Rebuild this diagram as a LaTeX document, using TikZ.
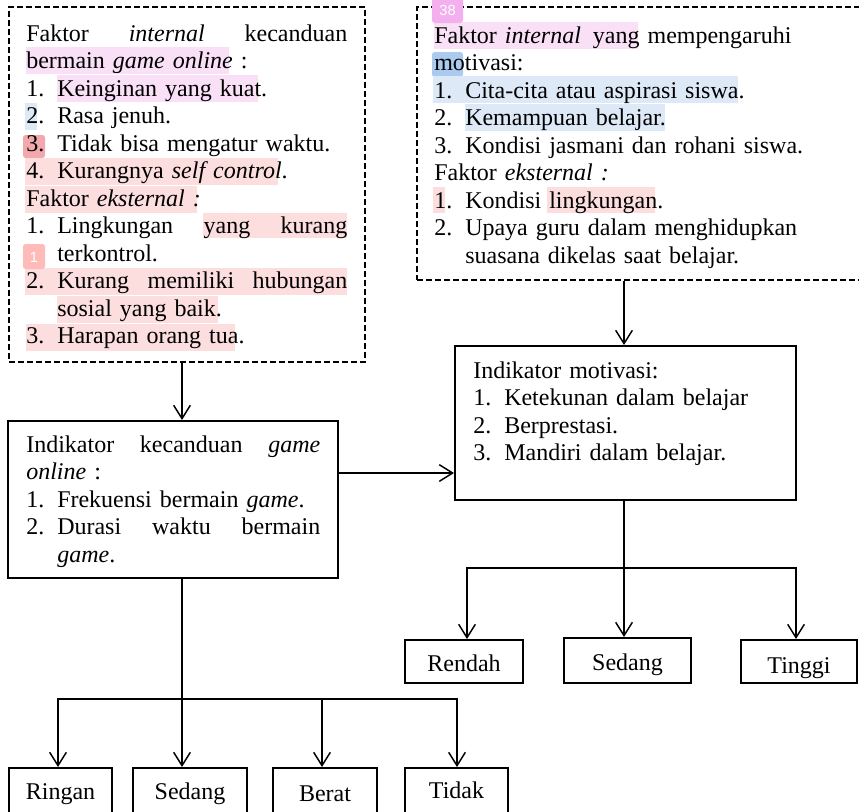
\documentclass[tikz,border=0pt]{standalone}
\usepackage{fontspec}
\setmainfont{Liberation Serif}
\newfontfamily\badgefont{Liberation Sans}
\usetikzlibrary{arrows.meta}
\definecolor{hlpur}{RGB}{249,224,246}
\definecolor{hlblue}{RGB}{221,233,246}
\definecolor{hlpink}{RGB}{253,222,222}
\definecolor{badgered}{RGB}{242,168,172}
\definecolor{badgesal}{RGB}{255,186,186}
\definecolor{badgepur}{RGB}{244,176,238}
\definecolor{badgeblue}{RGB}{170,202,240}
\newcommand{\itemnum}[1]{\makebox[23.25pt][l]{#1}}
\newcommand{\itemind}{\hspace*{23.25pt}}
\begin{document}
\begin{tikzpicture}[x=0.75pt,y=-0.75pt,
  box/.style={draw, line width=1.5pt, rectangle, inner sep=0pt},
  dbox/.style={draw, line width=1.2pt, dash pattern=on 4.5pt off 2.25pt, rectangle, inner sep=0pt},
  txt/.style={anchor=base west, inner sep=0pt, align=left, font=\fontsize{18pt}{20.625pt}\selectfont},
  leaf/.style={box, anchor=north, font=\fontsize{18pt}{20.625pt}\selectfont},
  arr/.style={line width=1.1pt, -{Straight Barb[length=10pt,width=12.5pt]}},
  ln/.style={line width=1.1pt},
  badge/.style={inner sep=0pt, text=white, font=\badgefont\fontsize{11pt}{12pt}\selectfont}]
\useasboundingbox (0,0) rectangle (859,811);

% highlights (left)
\fill[hlpur] (26,47) rectangle (229,74);
\fill[hlpur] (57,75) rectangle (258,102);
\fill[hlblue] (25,103) rectangle (37,130);
\fill[badgered, rounded corners=2pt] (23,135) rectangle (45,158);
\fill[hlpink] (25,158) rectangle (278,185);
\fill[hlpink] (25,186) rectangle (197,213);
\fill[hlpink] (203,213) rectangle (347,238);
\fill[hlpink] (25,268) rectangle (347,295);
\fill[hlpink] (57,296) rectangle (218,323);
\fill[hlpink] (26,324) rectangle (235,351);
% highlights (right)
\fill[hlpur] (434,22) rectangle (638,49);
\fill[badgeblue, rounded corners=2pt] (432,52) rectangle (463,77);
\fill[hlblue] (433,76) rectangle (738,103);
\fill[hlblue] (465,104) rectangle (665,131);
\fill[hlpink] (433,187) rectangle (445,213);
\fill[hlpink] (547,187) rectangle (655,213);

% frames
\node[dbox, minimum width=267pt, minimum height=266.25pt] (dashL) at (187,184.5) {};
\node[dbox, minimum width=347.25pt, minimum height=204.75pt] (dashR) at (648.5,143.5) {};
\node[box, minimum width=247.5pt, minimum height=117.75pt] (kec) at (173,499.5) {};
\node[box, minimum width=255.75pt, minimum height=115.5pt] (motiv) at (625.5,423) {};

% texts
\node[txt, text width=240.75pt] (tL) at (26,41) {%
Faktor\hfill\emph{internal}\hfill kecanduan\\
bermain \emph{game online} :\\
\itemnum{1.}Keinginan yang kuat.\\
\itemnum{2.}Rasa jenuh.\\
\itemnum{3.}Tidak bisa mengatur waktu.\\
\itemnum{4.}Kurangnya \emph{self control}.\\
Faktor \emph{eksternal :}\\
\itemnum{1.}Lingkungan\hfill yang\hfill kurang\\
\itemind terkontrol.\\
\itemnum{2.}Kurang\hfill memiliki\hfill hubungan\\
\itemind sosial yang baik.\\
\itemnum{3.}Harapan orang tua.};

\node[txt, text width=315pt] (tR) at (434,43) {%
Faktor \emph{internal}\hspace{9pt}yang mempengaruhi\\
motivasi:\\
\itemnum{1.}Cita-cita atau aspirasi siswa.\\
\itemnum{2.}Kemampuan belajar.\\
\itemnum{3.}Kondisi jasmani dan rohani siswa.\\
Faktor \emph{eksternal :}\\
\itemnum{1.}Kondisi lingkungan.\\
\itemnum{2.}Upaya guru dalam menghidupkan\\
\itemind suasana dikelas saat belajar.};

\node[txt, text width=220.5pt] (tK) at (26,452) {%
Indikator\hfill kecanduan\hfill\emph{game}\\
\emph{online} :\\
\itemnum{1.}Frekuensi bermain \emph{game}.\\
\itemnum{2.}Durasi\hfill waktu\hfill bermain\\
\itemind\emph{game}.};

\node[txt, text width=230pt] (tM) at (473,378) {%
Indikator motivasi:\\
\itemnum{1.}Ketekunan dalam belajar\\
\itemnum{2.}Berprestasi.\\
\itemnum{3.}Mandiri dalam belajar.};

% leaf boxes
\node[leaf, minimum width=88.5pt, text height=23.25pt, text depth=9pt] (rendah) at (464,639) {Rendah};
\node[leaf, minimum width=95.25pt, text height=24pt, text depth=9.75pt] (sedR) at (627.5,637) {Sedang};
\node[leaf, minimum width=87pt, text height=24.75pt, text depth=7.5pt] (tinggi) at (799,639) {Tinggi};
\node[leaf, minimum width=77.25pt, text height=23.25pt, text depth=31.5pt] (ringan) at (60.5,767) {Ringan};
\node[leaf, minimum width=85.5pt, text height=23.25pt, text depth=31.5pt] (sedL) at (190,767) {Sedang};
\node[leaf, minimum width=78pt, text height=24.75pt, text depth=30pt] (berat) at (325,767) {Berat};
\node[leaf, minimum width=77.25pt, text height=22.5pt, text depth=32.25pt] (tidak) at (456.5,767) {Tidak};

% connectors
\coordinate (jL) at (182,699);
\coordinate (jR) at (624,568);
\coordinate (mid) at (400,473);
\coordinate (bR1) at (467,568);
\coordinate (bR2) at (796,568);
\coordinate (bL1) at (58,699);
\coordinate (bL2) at (457,699);
\coordinate (bL3) at (322,699);
\draw[arr] (dashL.south -| jL) -- (kec.north -| jL);
\draw[arr] (kec.east |- mid) -- (motiv.west |- mid);
\draw[arr] (dashR.south -| jR) -- (motiv.north -| jR);
\draw[arr] (motiv.south -| jR) -- (sedR.north -| jR);
\draw[arr] (bR2) -- (bR1) -- (rendah.north -| bR1);
\draw[arr] (bR1) -- (bR2) -- (tinggi.north -| bR2);
\draw[arr] (kec.south -| jL) -- (sedL.north -| jL);
\draw[arr] (bL2) -- (bL1) -- (ringan.north -| bL1);
\draw[arr] (bL1) -- (bL2) -- (tidak.north -| bL2);
\draw[arr] (bL3) -- (berat.north -| bL3);

% badges on top
\fill[badgesal, rounded corners=2pt] (23,244) rectangle (45,269);
\node[badge] (b1) at (34,257) {1};
\fill[badgepur, rounded corners=2pt] (432,-6) rectangle (463,23);
\node[badge] (b38) at (447.5,10) {38};
\end{tikzpicture}
\end{document}
